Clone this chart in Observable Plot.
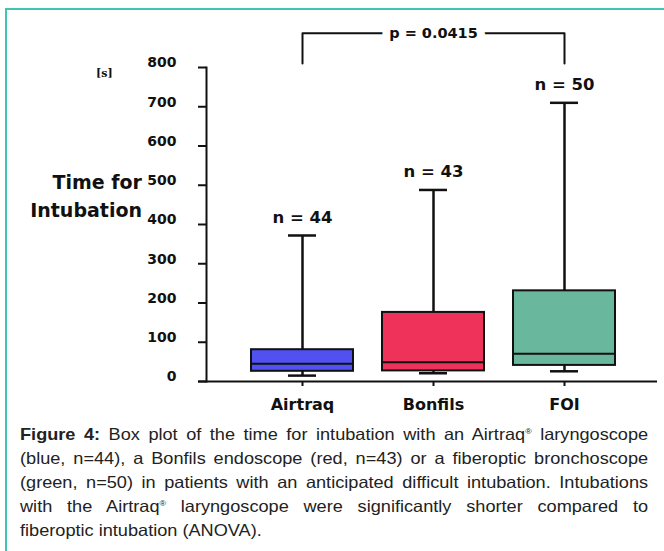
<!DOCTYPE html>
<html>
<head>
<meta charset="utf-8">
<script src="https://cdn.jsdelivr.net/npm/d3@7"></script>
<script src="https://cdn.jsdelivr.net/npm/@observablehq/plot@0.6"></script>
<style>
  body { margin: 0; background: #fff; }
  #wrap { position: relative; width: 664px; height: 551px; overflow: hidden; background: #fff; }
  #border { position: absolute; left: 5px; top: 8px; width: 720px; height: 620px; border: 2px solid #3fc6b1; }
  #chart { position: absolute; left: 0; top: 0; }
  #ylabel { position: absolute; left: 10px; top: 168px; width: 132px; text-align: right;
            font-family: "DejaVu Sans", sans-serif; font-weight: bold; font-size: 19px; line-height: 28px; color: #111; }
  #unit { position: absolute; left: 96px; top: 67px; font-family: "DejaVu Serif", serif; font-weight: bold; font-size: 11px; color: #111; }
  #caption { position: absolute; left: 20px; top: 423px; width: 571px; transform: scaleX(1.1); transform-origin: 0 0;
             font-family: "Liberation Sans", Arial, sans-serif; font-size: 16.5px; line-height: 23.9px; color: #222; }
  #caption div { white-space: nowrap; text-align: justify; text-align-last: justify; }
  #caption div.last { text-align-last: left; }
  #caption sup { font-size: 8px; vertical-align: 6px; line-height: 0; }
</style>
</head>
<body>
<div id="wrap">
  <div id="border"></div>
  <div id="chart"></div>
  <div id="ylabel">Time for<br>Intubation</div>
  <div id="unit">[s]</div>
  <div id="caption">
    <div><b>Figure 4:</b> Box plot of the time for intubation with an Airtraq<sup>®</sup> laryngoscope</div>
    <div>(blue, n=44), a Bonfils endoscope (red, n=43) or a fiberoptic bronchoscope</div>
    <div>(green, n=50) in patients with an anticipated difficult intubation. Intubations</div>
    <div>with the Airtraq<sup>®</sup> laryngoscope were significantly shorter compared to</div>
    <div class="last">fiberoptic intubation (ANOVA).</div>
  </div>
</div>
<script>
// ---- data ----
const categories = ["Airtraq", "Bonfils", "FOI"];
const whiskerLow = [15, 21, 26];
const q1 = [26, 27, 41];
const median = [45, 49, 71];
const q3 = [81, 176, 231];
const whiskerHigh = [372, 488, 710];
const nLabels = ["n = 44", "n = 43", "n = 50"];
const boxColors = ["#5151f2", "#ef325a", "#69b89e"];
const yTicks = [0, 100, 200, 300, 400, 500, 600, 700, 800];
const pLabel = "p = 0.0415";
const bracketLow = 810;
const bracketHigh = 887;
const bracketFrom = "Airtraq";
const bracketTo = "FOI";
const bracketMid = "Bonfils";

const rows = categories.map((c, i) => ({
  cat: c, lo: whiskerLow[i], q1: q1[i], med: median[i], q3: q3[i], hi: whiskerHigh[i],
  n: nLabels[i], color: boxColors[i]
}));
const bracket = [
  {x: bracketFrom, y: bracketLow},
  {x: bracketFrom, y: bracketHigh},
  {x: bracketTo, y: bracketHigh},
  {x: bracketTo, y: bracketLow}
];

const chart = Plot.plot({
  width: 664,
  height: 420,
  marginTop: 67,
  marginBottom: 39,
  marginLeft: 206,
  marginRight: 7,
  style: {fontFamily: "DejaVu Sans, sans-serif", color: "#111", background: "transparent", overflow: "visible"},
  x: {type: "band", domain: categories, range: [220.5, 644.5], padding: 0.224, label: null},
  y: {domain: [0, 800], label: null},
  color: {type: "identity"},
  marks: [
    Plot.frame({anchor: "left", strokeWidth: 2, stroke: "#111"}),
    Plot.ruleY([0], {strokeWidth: 2, stroke: "#111", insetLeft: -8}),
    Plot.axisY(yTicks, {tickSize: 8, strokeWidth: 2, stroke: "#111", fill: "none", label: null}),
    Plot.axisY(yTicks, {tickSize: 8, stroke: "none", tickPadding: 22, dy: -4.5, fontSize: 14, fontWeight: "bold", fill: "#111", label: null}),
    Plot.axisX({tickSize: 5, strokeWidth: 2, stroke: "#111", tickPadding: 12, fontSize: 16, fontWeight: "bold", fill: "#111", label: null}),
    Plot.ruleX(rows, {x: "cat", y1: "q3", y2: "hi", strokeWidth: 2.5, stroke: "#111"}),
    Plot.ruleX(rows, {x: "cat", y1: "lo", y2: "q1", strokeWidth: 2.5, stroke: "#111"}),
    Plot.tickY(rows, {x: "cat", y: "hi", strokeWidth: 2.5, stroke: "#111", inset: 37}),
    Plot.tickY(rows, {x: "cat", y: "lo", strokeWidth: 2.5, stroke: "#111", inset: 37}),
    Plot.barY(rows, {x: "cat", y1: "q1", y2: "q3", fill: "color", stroke: "#111", strokeWidth: 2, inset: 0}),
    Plot.tickY(rows, {x: "cat", y: "med", strokeWidth: 2, stroke: "#111"}),
    Plot.text(rows, {x: "cat", y: "hi", text: "n", dy: -18, fontSize: 16.5, fontWeight: "bold", fill: "#111"}),
    Plot.line(bracket, {x: "x", y: "y", strokeWidth: 2, stroke: "#111"}),
    Plot.text([pLabel], {x: () => bracketMid, y: () => bracketHigh, text: d => d, fontSize: 14.5, fontWeight: "bold",
      fill: "#111", stroke: "white", strokeWidth: 16})
  ]
});
document.getElementById("chart").appendChild(chart);
</script>
</body>
</html>
